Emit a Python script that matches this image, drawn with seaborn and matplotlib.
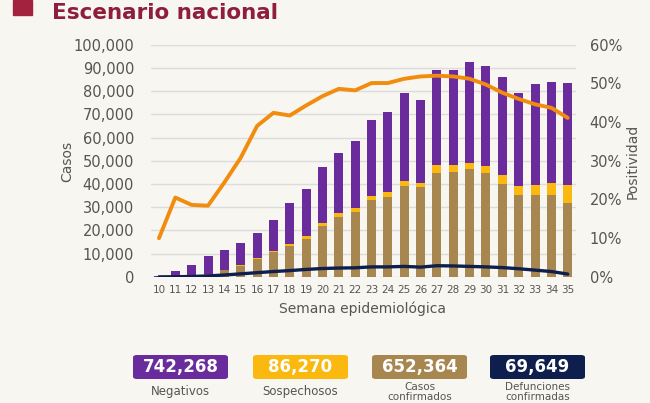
import numpy as np
import pandas as pd
import seaborn as sns
import matplotlib.pyplot as plt
from matplotlib.patches import FancyBboxPatch, Rectangle
from matplotlib.ticker import FuncFormatter

weeks = [10, 11, 12, 13, 14, 15, 16, 17, 18, 19, 20, 21, 22,
         23, 24, 25, 26, 27, 28, 29, 30, 31, 32, 33, 34, 35]
confirmados = [100, 300, 600, 1200, 2800, 4800, 7800, 10800, 13500, 16500, 21800, 25700, 27800,
               33000, 34600, 39200, 38500, 44900, 45200, 46400, 44900, 39900, 35300, 35200, 35300, 31800]
sospechosos = [50, 100, 100, 150, 200, 200, 300, 300, 500, 1200, 1500, 1600, 1700,
               1900, 2000, 2100, 2100, 3200, 2900, 2800, 2900, 3900, 3900, 4300, 5000, 7700]
negativos = [150, 2000, 4300, 7500, 8500, 9500, 10800, 13400, 17700, 20300, 24100, 26200, 29000,
             32600, 34400, 37700, 35400, 41200, 41200, 43500, 42900, 42300, 40100, 43500, 43800, 43800]
defunciones = [0, 50, 150, 400, 800, 1300, 1800, 2300, 2700, 3200, 3600, 3800, 3900,
               4300, 4300, 4500, 4200, 4800, 4700, 4500, 4300, 4000, 3500, 2900, 2300, 1200]
positividad = [10.0, 20.5, 18.6, 18.4, 24.4, 30.8, 39.0, 42.4, 41.7, 44.3, 46.7, 48.6, 48.2,
               50.1, 50.1, 51.2, 51.8, 52.0, 51.8, 51.2, 49.7, 47.6, 46.0, 44.6, 43.7, 41.1]

totales = ["742,268", "86,270", "652,364", "69,649"]
etiquetas = ["Negativos", "Sospechosos", "Casos\nconfirmados", "Defunciones\nconfirmadas"]

purple = "#6a2c9c"
yellow = "#fbb90f"
tan = "#a8864f"
navy = "#0f1f4d"
orange = "#f28c0f"
grey = "#555555"
bg = "#f8f6f1"

df = pd.DataFrame({"semana": weeks, "conf": confirmados, "sosp": sospechosos, "neg": negativos})
df["conf_sosp"] = df["conf"] + df["sosp"]
df["total"] = df["conf_sosp"] + df["neg"]
pos = np.arange(len(weeks))

sns.set_style("white")
plt.rcParams["font.family"] = ["DejaVu Sans"]

fig = plt.figure(figsize=(6.5, 4.03), dpi=100, facecolor=bg)
ax = fig.add_axes([0.232, 0.313, 0.654, 0.576])
ax.set_facecolor("none")

# stacked bars drawn as overlapping cumulative totals
sns.barplot(data=df, x="semana", y="total", color=purple, width=0.55, linewidth=0, saturation=1, ax=ax)
sns.barplot(data=df, x="semana", y="conf_sosp", color=yellow, width=0.55, linewidth=0, saturation=1, ax=ax)
sns.barplot(data=df, x="semana", y="conf", color=tan, width=0.55, linewidth=0, saturation=1, ax=ax)
sns.lineplot(x=pos, y=defunciones, color=navy, linewidth=2.4, ax=ax)

ax.set_xlim(-0.5, len(weeks) - 0.5)
ax.set_ylim(0, 100000)
ax.set_yticks(range(0, 100001, 10000))
ax.yaxis.set_major_formatter(FuncFormatter(lambda v, p: f"{int(v):,}"))
ax.yaxis.grid(True, color="#dcdcdc", linewidth=1)
ax.set_axisbelow(True)
ax.set_xlabel("")
ax.set_ylabel("")
ax.tick_params(axis="y", length=0, labelsize=10.5, labelcolor=grey, pad=12)
ax.tick_params(axis="x", length=0, labelsize=7.5, labelcolor=grey, pad=6)
sns.despine(ax=ax, left=True, bottom=True)

ax2 = ax.twinx()
sns.lineplot(x=pos, y=positividad, color=orange, linewidth=2.8, ax=ax2)
ax2.set_ylim(0, 60)
ax2.set_yticks(range(0, 61, 10))
ax2.yaxis.set_major_formatter(FuncFormatter(lambda v, p: f"{int(v)}%"))
ax2.tick_params(axis="y", length=0, labelsize=10.5, labelcolor=grey, pad=10)
ax2.set_ylabel("")
sns.despine(ax=ax2, left=True, bottom=True, right=True)
ax.set_xlim(-0.5, len(weeks) - 0.5)

fig.text(67 / 650, 0.6, "Casos", rotation=90, ha="center", va="center", fontsize=10, color=grey)
fig.text(633 / 650, 0.6, "Positividad", rotation=90, ha="center", va="center", fontsize=10, color=grey)
fig.text(0.557, 1 - 309 / 403, "Semana epidemiológica", ha="center", va="center", fontsize=10, color=grey)

fig.add_artist(Rectangle((13 / 650, 1 - 15 / 403), 19 / 650, 15 / 403,
                         transform=fig.transFigure, color="#a3223e"))
fig.text(52 / 650, 1 - 19 / 403, "Escenario nacional", ha="left", va="baseline",
         fontsize=15.5, fontweight="bold", color="#8e1e3a")

box_colors = [purple, yellow, tan, navy]
box_x = [133, 253, 372, 490]
for bx, col, num, lab in zip(box_x, box_colors, totales, etiquetas):
    fig.add_artist(FancyBboxPatch((bx / 650, 1 - 379 / 403), 95 / 650, 24 / 403,
                                  boxstyle="round,pad=0,rounding_size=0.006",
                                  transform=fig.transFigure, color=col, linewidth=0))
    fig.text((bx + 47.5) / 650, 1 - 367 / 403, num, ha="center", va="center",
             fontsize=12, fontweight="bold", color="white")
    if "\n" in lab:
        fig.text((bx + 47.5) / 650, 1 - 382 / 403, lab, ha="center", va="top",
                 fontsize=7.5, color=grey, linespacing=1.0)
    else:
        fig.text((bx + 47.5) / 650, 1 - 391 / 403, lab, ha="center", va="center",
                 fontsize=8.5, color=grey)

fig.savefig("out.png", dpi=100, facecolor=bg)
